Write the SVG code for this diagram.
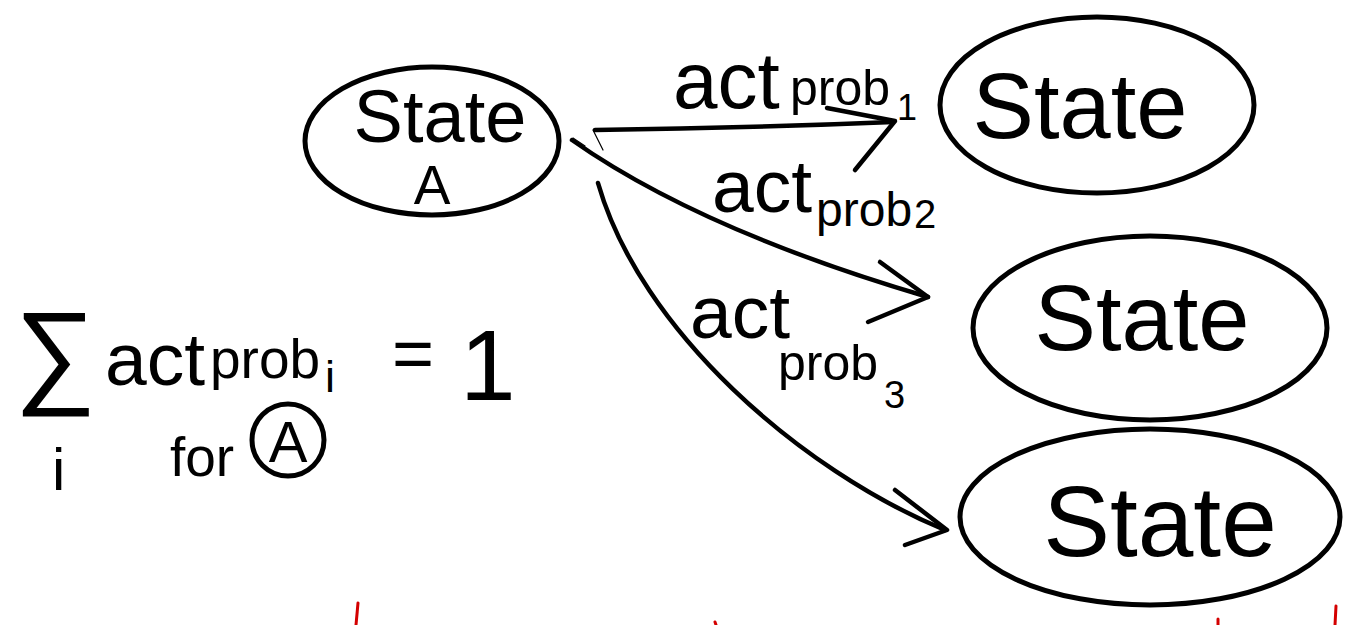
<svg xmlns="http://www.w3.org/2000/svg" width="1346" height="625" viewBox="0 0 1346 625">
  <style>
    .node { fill: none; stroke: #000; stroke-width: 5; }
    .edge { fill: none; stroke: #000; stroke-width: 4.5; stroke-linecap: round; stroke-linejoin: round; }
    .thin { fill: none; stroke: #000; stroke-width: 1.2; stroke-linecap: round; }
    .hand { font-family: "Liberation Sans", "DejaVu Sans", sans-serif; fill: #000; }
    .mark { fill: none; stroke: #d40000; stroke-width: 3; stroke-linecap: round; }
  </style>
  <rect width="1346" height="625" fill="#fff"/>

  <!-- states -->
  <g id="state-a">
    <ellipse class="node" cx="432" cy="141" rx="127" ry="74"/>
    <text class="hand" x="440" y="142" font-size="74" text-anchor="middle">State</text>
    <text class="hand" x="432" y="204" font-size="55" text-anchor="middle">A</text>
  </g>
  <g id="state-1">
    <ellipse class="node" cx="1097" cy="105" rx="157" ry="88"/>
    <text class="hand" x="1080" y="138" font-size="92" text-anchor="middle">State</text>
  </g>
  <g id="state-2">
    <ellipse class="node" cx="1150" cy="328" rx="177" ry="92"/>
    <text class="hand" x="1142" y="350" font-size="92" text-anchor="middle">State</text>
  </g>
  <g id="state-3">
    <ellipse class="node" cx="1150" cy="517" rx="190" ry="88"/>
    <text class="hand" x="1160" y="556" font-size="100" text-anchor="middle">State</text>
  </g>

  <!-- transitions out of state A -->
  <g id="connectors">
    <path class="thin" d="M593,130 L603,150"/>
    <path class="edge" d="M595,130 Q 750,128 893,122"/>
    <path class="edge" d="M827,108 L895,121 L855,170"/>

    <path class="thin" d="M573,138 L585,146"/>
    <path class="edge" d="M572,140 Q 700,230 928,297"/>
    <path class="edge" d="M880,262 L928,297 L868,322"/>

    <path class="edge" d="M598,183 C 640,330 800,470 945,530"/>
    <path class="edge" d="M895,490 L947,530 L905,545"/>
  </g>

  <!-- edge labels -->
  <g id="labels">
    <text class="hand" x="673" y="108" font-size="80">act</text>
    <text class="hand" x="790" y="105" font-size="50">prob</text>
    <text class="hand" x="897" y="120" font-size="36">1</text>

    <text class="hand" x="712" y="212" font-size="75">act</text>
    <text class="hand" x="816" y="226" font-size="48">prob</text>
    <text class="hand" x="914" y="228" font-size="40">2</text>

    <text class="hand" x="690" y="338" font-size="75">act</text>
    <text class="hand" x="778" y="380" font-size="50">prob</text>
    <text class="hand" x="884" y="408" font-size="38">3</text>
  </g>

  <!-- normalisation of action probabilities -->
  <g id="formula">
    <text class="hand" x="14" y="392" font-size="115">∑</text>
    <text class="hand" x="52" y="490" font-size="60">i</text>
    <text class="hand" x="105" y="385" font-size="75">act</text>
    <text class="hand" x="210" y="378" font-size="55">prob</text>
    <text class="hand" x="325" y="392" font-size="45">i</text>
    <text class="hand" x="392" y="378" font-size="72">=</text>
    <text class="hand" x="460" y="400" font-size="100">1</text>
    <text class="hand" x="170" y="476" font-size="55">for</text>
    <circle class="node" cx="288" cy="440" r="36" stroke-width="4"/>
    <text class="hand" x="288" y="462" font-size="58" text-anchor="middle">A</text>
  </g>

  <!-- red strokes along the bottom edge -->
  <g id="red-marks">
    <path class="mark" d="M358,603 L356,625"/>
    <path class="mark" d="M715,622 L716,625"/>
    <path class="mark" d="M1218,619 L1218,625"/>
    <path class="mark" d="M1336,606 L1335,625"/>
  </g>
</svg>
